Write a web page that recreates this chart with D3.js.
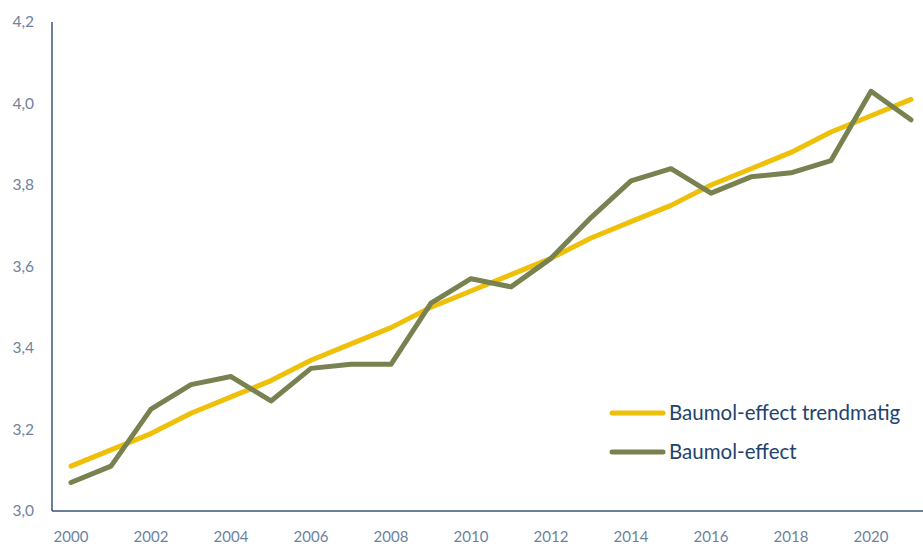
<!DOCTYPE html>
<html>
<head>
<meta charset="utf-8">
<script src="https://cdn.jsdelivr.net/npm/d3@7"></script>
<style>
  body { margin: 0; background: #fff; }
  svg { display: block; }
</style>
</head>
<body>
<div id="chart"></div>
<script>
// Data
const years = d3.range(2000, 2022);
const baumol = [3.07, 3.11, 3.25, 3.31, 3.33, 3.27, 3.35, 3.36, 3.36, 3.51, 3.57,
                3.55, 3.62, 3.72, 3.81, 3.84, 3.78, 3.82, 3.83, 3.86, 4.03, 3.96];
const trend = [3.11, 3.15, 3.19, 3.24, 3.28, 3.32, 3.37, 3.41, 3.45, 3.50, 3.54,
               3.58, 3.62, 3.67, 3.71, 3.75, 3.80, 3.84, 3.88, 3.93, 3.97, 4.01];
const yTicks = [3.0, 3.2, 3.4, 3.6, 3.8, 4.0, 4.2];
const xTicks = [2000, 2002, 2004, 2006, 2008, 2010, 2012, 2014, 2016, 2018, 2020];
const seriesNames = ["Baumol-effect trendmatig", "Baumol-effect"];

const width = 923, height = 544;
const font = "'Lato', 'Open Sans', sans-serif";
const axisColor = "#3b5578";
const tickColor = "#6f82a0";
const yellow = "#efc00a";
const green = "#788150";

const svg = d3.select("#chart").append("svg")
    .attr("width", width)
    .attr("height", height);

// Scales
const x = d3.scalePoint().domain(years).range([71, 911]);
const y = d3.scaleLinear().domain([3.0, 4.2]).range([511, 22]);
const axisX = 52;

// Axis lines
svg.append("line")
    .attr("x1", axisX).attr("x2", axisX)
    .attr("y1", y(4.2)).attr("y2", y(3.0))
    .attr("stroke", axisColor).attr("stroke-width", 1.5);

svg.append("line")
    .attr("x1", axisX).attr("x2", width)
    .attr("y1", y(3.0)).attr("y2", y(3.0))
    .attr("stroke", axisColor).attr("stroke-width", 1.5);

// Tick labels
svg.selectAll(".ylab")
    .data(yTicks)
    .enter().append("text")
    .attr("class", "ylab")
    .attr("x", 34)
    .attr("y", d => y(d))
    .attr("dy", "0.35em")
    .attr("text-anchor", "end")
    .style("font-family", font)
    .style("font-size", "15.5px")
    .attr("fill", tickColor)
    .text(d => d3.format(".1f")(d).replace(".", ","));

svg.selectAll(".xlab")
    .data(xTicks)
    .enter().append("text")
    .attr("class", "xlab")
    .attr("x", d => x(d))
    .attr("y", 537)
    .attr("dy", "0.35em")
    .attr("text-anchor", "middle")
    .style("font-family", font)
    .style("font-size", "15px")
    .attr("fill", tickColor)
    .text(d => d);

// Lines
const line = d3.line()
    .x((d, i) => x(years[i]))
    .y(d => y(d));

svg.append("path")
    .datum(trend)
    .attr("d", line)
    .attr("fill", "none")
    .attr("stroke", yellow)
    .attr("stroke-width", 5)
    .attr("stroke-linecap", "round")
    .attr("stroke-linejoin", "round");

svg.append("path")
    .datum(baumol)
    .attr("d", line)
    .attr("fill", "none")
    .attr("stroke", green)
    .attr("stroke-width", 5)
    .attr("stroke-linecap", "round")
    .attr("stroke-linejoin", "round");

// Legend
const legend = svg.append("g").attr("transform", "translate(612,413)");
[yellow, green].forEach((c, i) => {
    const row = legend.append("g").attr("transform", `translate(0,${i * 39})`);
    row.append("line")
        .attr("x1", 0).attr("x2", 51)
        .attr("stroke", c).attr("stroke-width", 5)
        .attr("stroke-linecap", "round");
    row.append("text")
        .attr("x", 57)
        .attr("dy", "0.35em")
        .style("font-family", font)
        .style("font-size", "20.5px")
        .attr("fill", "#23436e")
        .text(seriesNames[i]);
});
</script>
</body>
</html>
